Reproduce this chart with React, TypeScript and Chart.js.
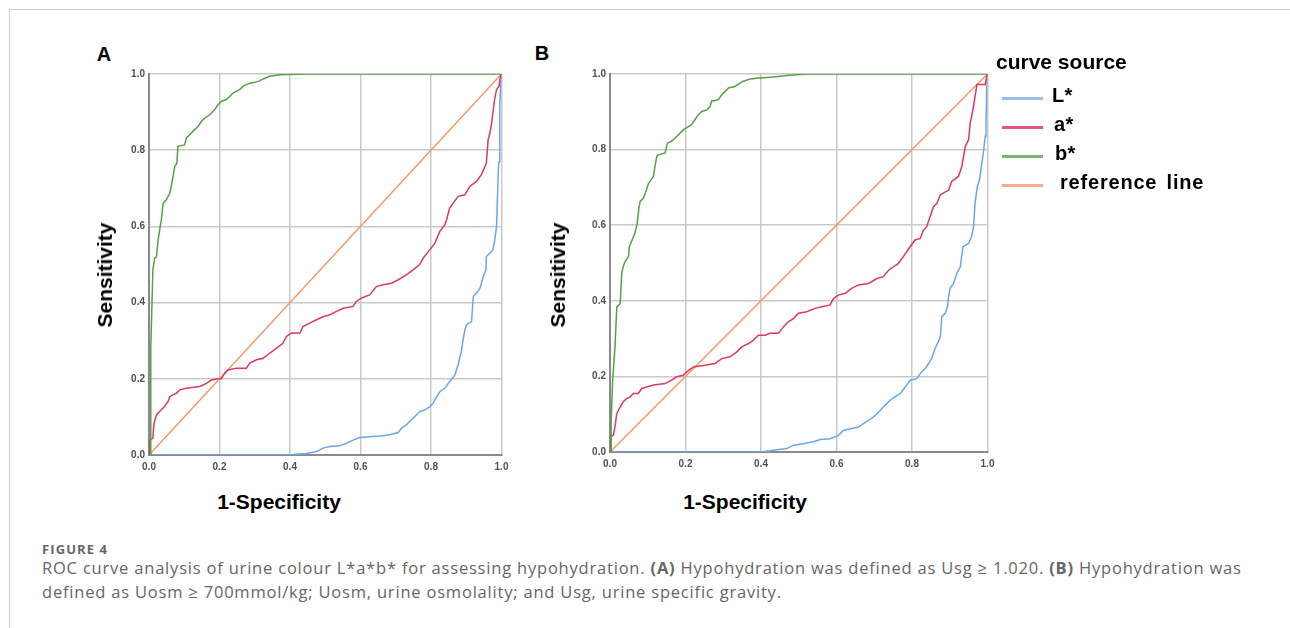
import React, { useEffect, useRef } from 'react';
import { Chart, registerables } from 'chart.js';

Chart.register(...registerables);

// ---------- data ----------
const TICK_VALUES = [0, 0.2, 0.4, 0.6, 0.8, 1.0];
const TICK_LABELS = ['0.0', '0.2', '0.4', '0.6', '0.8', '1.0'];
const SERIES_NAMES = ['L*', 'a*', 'b*', 'reference line'];
const LEGEND_TITLE = 'curve source';
const X_TITLE = '1-Specificity';
const Y_TITLE = 'Sensitivity';

// [1-Specificity, Sensitivity]
const A_L: [number, number][] = [
  [0, 0], [0.399, 0], [0.418, 0.002], [0.447, 0.004], [0.475, 0.009], [0.494, 0.018], [0.513, 0.022],
  [0.541, 0.024], [0.56, 0.031], [0.579, 0.039], [0.598, 0.046], [0.626, 0.048], [0.655, 0.05],
  [0.683, 0.053], [0.707, 0.059], [0.716, 0.07], [0.73, 0.079], [0.74, 0.088], [0.754, 0.101],
  [0.768, 0.114], [0.782, 0.118], [0.797, 0.127], [0.806, 0.136], [0.816, 0.153], [0.825, 0.166],
  [0.839, 0.175], [0.853, 0.193], [0.868, 0.21], [0.872, 0.223], [0.877, 0.236], [0.882, 0.258],
  [0.886, 0.271], [0.891, 0.302], [0.896, 0.328], [0.901, 0.342], [0.915, 0.35], [0.92, 0.416],
  [0.929, 0.425], [0.939, 0.438], [0.948, 0.468], [0.956, 0.486], [0.957, 0.521], [0.967, 0.53],
  [0.976, 0.539], [0.981, 0.565], [0.986, 0.6], [0.991, 0.749], [0.993, 0.77], [0.995, 0.915],
  [0.998, 0.985], [1, 1],
];
const A_A: [number, number][] = [
  [0, 0], [0.002, 0.04], [0.011, 0.044], [0.014, 0.083], [0.021, 0.105], [0.03, 0.114], [0.044, 0.127],
  [0.054, 0.14], [0.059, 0.153], [0.068, 0.158], [0.078, 0.162], [0.087, 0.171], [0.106, 0.175],
  [0.144, 0.18], [0.163, 0.188], [0.177, 0.197], [0.196, 0.2], [0.205, 0.2], [0.215, 0.215],
  [0.224, 0.223], [0.248, 0.228], [0.276, 0.228], [0.286, 0.241], [0.305, 0.25], [0.324, 0.254],
  [0.342, 0.267], [0.361, 0.28], [0.38, 0.293], [0.39, 0.311], [0.404, 0.32], [0.428, 0.32],
  [0.437, 0.337], [0.456, 0.346], [0.475, 0.355], [0.494, 0.363], [0.513, 0.368], [0.532, 0.377],
  [0.551, 0.385], [0.579, 0.39], [0.588, 0.403], [0.603, 0.412], [0.626, 0.42], [0.645, 0.442],
  [0.664, 0.447], [0.688, 0.451], [0.707, 0.46], [0.73, 0.473], [0.749, 0.486], [0.768, 0.5],
  [0.778, 0.517], [0.797, 0.539], [0.811, 0.556], [0.825, 0.587], [0.839, 0.604], [0.844, 0.617],
  [0.853, 0.648], [0.863, 0.661], [0.877, 0.679], [0.896, 0.683], [0.91, 0.705], [0.929, 0.718],
  [0.943, 0.736], [0.953, 0.757], [0.957, 0.766], [0.962, 0.827], [0.967, 0.845], [0.972, 0.871],
  [0.981, 0.937], [0.986, 0.959], [0.993, 0.968], [0.997, 0.995], [1, 1],
];
const A_B: [number, number][] = [
  [0, 0], [0.005, 0], [0.005, 0.28], [0.0085, 0.4], [0.011, 0.486], [0.016, 0.517], [0.021, 0.52],
  [0.026, 0.565], [0.03, 0.59], [0.035, 0.617], [0.04, 0.66], [0.049, 0.67], [0.059, 0.687],
  [0.063, 0.705], [0.068, 0.73], [0.073, 0.757], [0.079, 0.766], [0.082, 0.81], [0.101, 0.814],
  [0.106, 0.832], [0.115, 0.84], [0.125, 0.85], [0.139, 0.862], [0.149, 0.876], [0.158, 0.884],
  [0.172, 0.893], [0.186, 0.906], [0.196, 0.92], [0.205, 0.928], [0.219, 0.933], [0.229, 0.941],
  [0.238, 0.95], [0.257, 0.959], [0.267, 0.968], [0.286, 0.976], [0.309, 0.98], [0.324, 0.987],
  [0.342, 0.994], [0.371, 0.998], [0.447, 1], [1, 1],
];

const B_L: [number, number][] = [
  [0, 0], [0.4, 0], [0.415, 0.002], [0.442, 0.006], [0.468, 0.009], [0.486, 0.018], [0.512, 0.022],
  [0.539, 0.027], [0.557, 0.033], [0.583, 0.035], [0.605, 0.044], [0.618, 0.057], [0.64, 0.062],
  [0.658, 0.066], [0.671, 0.075], [0.685, 0.084], [0.698, 0.093], [0.716, 0.11], [0.724, 0.119],
  [0.733, 0.128], [0.742, 0.137], [0.755, 0.146], [0.769, 0.155], [0.782, 0.172], [0.795, 0.19],
  [0.813, 0.194], [0.822, 0.208], [0.835, 0.221], [0.844, 0.234], [0.852, 0.247], [0.861, 0.274],
  [0.87, 0.292], [0.875, 0.305], [0.879, 0.358], [0.888, 0.367], [0.894, 0.384], [0.897, 0.411],
  [0.901, 0.433], [0.91, 0.446], [0.919, 0.473], [0.928, 0.49], [0.935, 0.543], [0.95, 0.552],
  [0.958, 0.57], [0.963, 0.596], [0.967, 0.658], [0.973, 0.702], [0.979, 0.72], [0.985, 0.764],
  [0.989, 0.791], [0.994, 0.835], [0.996, 0.87], [0.998, 0.967], [1, 1],
];
const B_A: [number, number][] = [
  [0, 0], [0.002, 0.04], [0.009, 0.044], [0.013, 0.066], [0.018, 0.102], [0.027, 0.119], [0.035, 0.133],
  [0.044, 0.141], [0.053, 0.146], [0.062, 0.155], [0.075, 0.155], [0.084, 0.168], [0.097, 0.172],
  [0.115, 0.177], [0.146, 0.181], [0.163, 0.19], [0.177, 0.199], [0.194, 0.203], [0.203, 0.212],
  [0.221, 0.225], [0.256, 0.23], [0.278, 0.234], [0.296, 0.247], [0.318, 0.252], [0.336, 0.265],
  [0.349, 0.278], [0.367, 0.287], [0.38, 0.296], [0.393, 0.309], [0.411, 0.309], [0.424, 0.314],
  [0.446, 0.314], [0.459, 0.331], [0.473, 0.345], [0.486, 0.353], [0.499, 0.367], [0.521, 0.371],
  [0.543, 0.38], [0.561, 0.384], [0.583, 0.389], [0.592, 0.406], [0.605, 0.415], [0.623, 0.42],
  [0.64, 0.433], [0.658, 0.442], [0.685, 0.446], [0.707, 0.459], [0.724, 0.464], [0.738, 0.481],
  [0.764, 0.499], [0.777, 0.517], [0.795, 0.543], [0.808, 0.561], [0.822, 0.565], [0.83, 0.587],
  [0.839, 0.596], [0.848, 0.623], [0.857, 0.649], [0.866, 0.658], [0.875, 0.68], [0.883, 0.685],
  [0.897, 0.693], [0.905, 0.716], [0.923, 0.729], [0.932, 0.755], [0.941, 0.808], [0.95, 0.826],
  [0.954, 0.87], [0.958, 0.888], [0.963, 0.914], [0.967, 0.941], [0.972, 0.972], [0.994, 0.972],
  [0.998, 0.994], [1, 1],
];
const B_B: [number, number][] = [
  [0, 0], [0.003, 0], [0.003, 0.08], [0.007, 0.19], [0.013, 0.274], [0.018, 0.384], [0.027, 0.393],
  [0.031, 0.473], [0.035, 0.49], [0.04, 0.504], [0.049, 0.517], [0.051, 0.543], [0.057, 0.557],
  [0.066, 0.579], [0.072, 0.605], [0.077, 0.649], [0.08, 0.663], [0.088, 0.671], [0.095, 0.689],
  [0.102, 0.711], [0.106, 0.716], [0.115, 0.729], [0.119, 0.755], [0.124, 0.782], [0.128, 0.786],
  [0.146, 0.791], [0.152, 0.817], [0.163, 0.822], [0.172, 0.83], [0.181, 0.839], [0.194, 0.852],
  [0.208, 0.861], [0.216, 0.866], [0.225, 0.879], [0.234, 0.892], [0.243, 0.901], [0.256, 0.905],
  [0.265, 0.914], [0.269, 0.928], [0.287, 0.932], [0.296, 0.945], [0.305, 0.954], [0.314, 0.963],
  [0.331, 0.967], [0.345, 0.976], [0.353, 0.981], [0.371, 0.987], [0.389, 0.989], [0.433, 0.992],
  [0.468, 0.996], [0.521, 1], [1, 1],
];
const REF_LINE: [number, number][] = [[0, 0], [1, 1]];

// ---------- styles ----------
const COLORS = ['#6aa6ea', '#e0385f', '#55a048', '#f5976a'];
const LEGEND_COLORS = ['#94bfee', '#e35479', '#7cb571', '#f6ad89'];
const FONT = "'Liberation Sans', Arial, sans-serif";
const CAP_FONT = "'Open Sans', 'Noto Sans', sans-serif";

type PanelProps = {
  curves: [number, number][][];
  left: number;
  top: number;
  width: number;
  height: number;
  padTop: number;
  padRight: number;
  yWidth: number;
  xHeight: number;
};

function Panel({ curves, left, top, width, height, padTop, padRight, yWidth, xHeight }: PanelProps) {
  const ref = useRef<HTMLCanvasElement | null>(null);
  useEffect(() => {
    if (!ref.current) return;
    const tickFont = { family: FONT, size: 10, weight: 'bold' as const };
    const labelOf = (v: number) => {
      const i = TICK_VALUES.findIndex((t) => Math.abs(t - v) < 1e-6);
      return i >= 0 ? TICK_LABELS[i] : '';
    };
    const order = [2, 1, 0, 3];
    const chart = new Chart(ref.current, {
      type: 'line',
      data: {
        datasets: order.map((k) => ({
          label: SERIES_NAMES[k],
          data: (k === 3 ? REF_LINE : curves[k]).map(([x, y]) => ({ x, y })),
          borderColor: COLORS[k],
          borderWidth: 1.5,
          pointRadius: 0,
          tension: 0,
          fill: false,
        })),
      },
      options: {
        responsive: false,
        maintainAspectRatio: false,
        animation: false,
        events: [],
        layout: { padding: { top: padTop, right: padRight, left: 0, bottom: 0 } },
        plugins: { legend: { display: false }, tooltip: { enabled: false }, title: { display: false } },
        scales: {
          x: {
            type: 'linear',
            min: 0,
            max: 1,
            afterBuildTicks: (s: any) => {
              s.ticks = TICK_VALUES.map((v) => ({ value: v }));
            },
            afterFit: (s: any) => {
              s.height = xHeight;
            },
            ticks: {
              callback: (v: any) => labelOf(Number(v)),
              font: tickFont,
              color: '#505050',
              padding: 6,
              maxRotation: 0,
              autoSkip: false,
            },
            grid: { color: '#c9c9c9', lineWidth: 1.5, drawTicks: false },
            border: { color: '#8a8a8a', width: 2 },
          },
          y: {
            type: 'linear',
            min: 0,
            max: 1,
            afterBuildTicks: (s: any) => {
              s.ticks = TICK_VALUES.map((v) => ({ value: v }));
            },
            afterFit: (s: any) => {
              s.width = yWidth;
            },
            ticks: {
              callback: (v: any) => labelOf(Number(v)),
              font: tickFont,
              color: '#505050',
              padding: 4,
              autoSkip: false,
            },
            grid: { color: '#c9c9c9', lineWidth: 1.5, drawTicks: false },
            border: { color: '#8a8a8a', width: 2 },
          },
        },
      },
    } as any);
    return () => chart.destroy();
  }, []);
  return (
    <canvas
      ref={ref}
      width={width}
      height={height}
      style={{ position: 'absolute', left, top, width, height }}
    />
  );
}

const abs = (extra: React.CSSProperties): React.CSSProperties => ({
  position: 'absolute',
  whiteSpace: 'nowrap',
  ...extra,
});

function AxisTitles({ xCx, yCx }: { xCx: number; yCx: number }) {
  return (
    <>
      <div
        style={abs({
          left: yCx,
          top: 275,
          transform: 'translate(-50%, -50%) rotate(-90deg)',
          font: `bold 21px ${FONT}`,
          color: '#000',
          lineHeight: '24px',
        })}
      >
        {Y_TITLE}
      </div>
      <div
        style={abs({
          left: xCx,
          top: 502,
          transform: 'translate(-50%, -50%)',
          font: `bold 21px ${FONT}`,
          color: '#000',
          lineHeight: '24px',
        })}
      >
        {X_TITLE}
      </div>
    </>
  );
}

function Legend() {
  const lineY = [98, 127, 156, 185];
  const textX = [1052, 1054, 1055, 1060];
  return (
    <>
      <div
        style={abs({
          left: 996,
          top: 62,
          transform: 'translateY(-50%)',
          font: `bold 21px ${FONT}`,
          lineHeight: '24px',
          color: '#000',
        })}
      >
        {LEGEND_TITLE}
      </div>
      {SERIES_NAMES.map((name, i) => (
        <React.Fragment key={name}>
          <div
            style={abs({
              left: 1002,
              top: lineY[i] - 1.5,
              width: 41,
              height: 3,
              background: LEGEND_COLORS[i],
            })}
          />
          <div
            style={abs({
              left: textX[i],
              top: lineY[i] - 3,
              transform: 'translateY(-50%)',
              font: `bold 20px ${FONT}`,
              lineHeight: '24px',
              letterSpacing: i === 3 ? '0.8px' : '0.3px',
              wordSpacing: '3px',
              color: '#000',
            })}
          >
            {name}
          </div>
        </React.Fragment>
      ))}
    </>
  );
}

export default function App() {
  return (
    <div
      style={{
        position: 'fixed',
        left: 0,
        top: 0,
        width: 1290,
        height: 628,
        background: '#fff',
        overflow: 'hidden',
      }}
    >
      <div
        style={abs({
          left: 9,
          top: 9,
          width: 1300,
          height: 640,
          borderTop: '1px solid #cfcfcf',
          borderLeft: '1px solid #cfcfcf',
        })}
      />
      <div style={abs({ left: 104, top: 54, transform: 'translate(-50%, -50%)', font: `bold 20px ${FONT}`, color: '#000' })}>A</div>
      <div style={abs({ left: 542, top: 53, transform: 'translate(-50%, -50%)', font: `bold 20px ${FONT}`, color: '#000' })}>B</div>

      <Panel curves={[A_L, A_A, A_B]} left={100} top={60} width={420} height={420} padTop={14} padRight={18.5} yWidth={49} xHeight={25} />
      <Panel curves={[B_L, B_A, B_B]} left={560} top={60} width={450} height={420} padTop={14} padRight={22.5} yWidth={50} xHeight={28} />

      <AxisTitles xCx={279} yCx={105} />
      <AxisTitles xCx={745} yCx={558} />
      <Legend />

      <div
        style={abs({
          left: 42,
          top: 549,
          transform: 'translateY(-50%)',
          font: `bold 13px ${CAP_FONT}`,
          letterSpacing: '1.1px',
          color: '#666',
        })}
      >
        FIGURE 4
      </div>
      <div
        style={abs({
          left: 42,
          top: 556,
          font: `16.5px ${CAP_FONT}`,
          lineHeight: '24px',
          letterSpacing: '0.8px',
          color: '#666',
        })}
      >
        ROC curve analysis of urine colour L*a*b* for assessing hypohydration. <b>(A)</b> Hypohydration was defined as Usg ≥ 1.020. <b>(B)</b> Hypohydration was
        <br />
        defined as Uosm ≥ 700mmol/kg; Uosm, urine osmolality; and Usg, urine specific gravity.
      </div>
    </div>
  );
}
